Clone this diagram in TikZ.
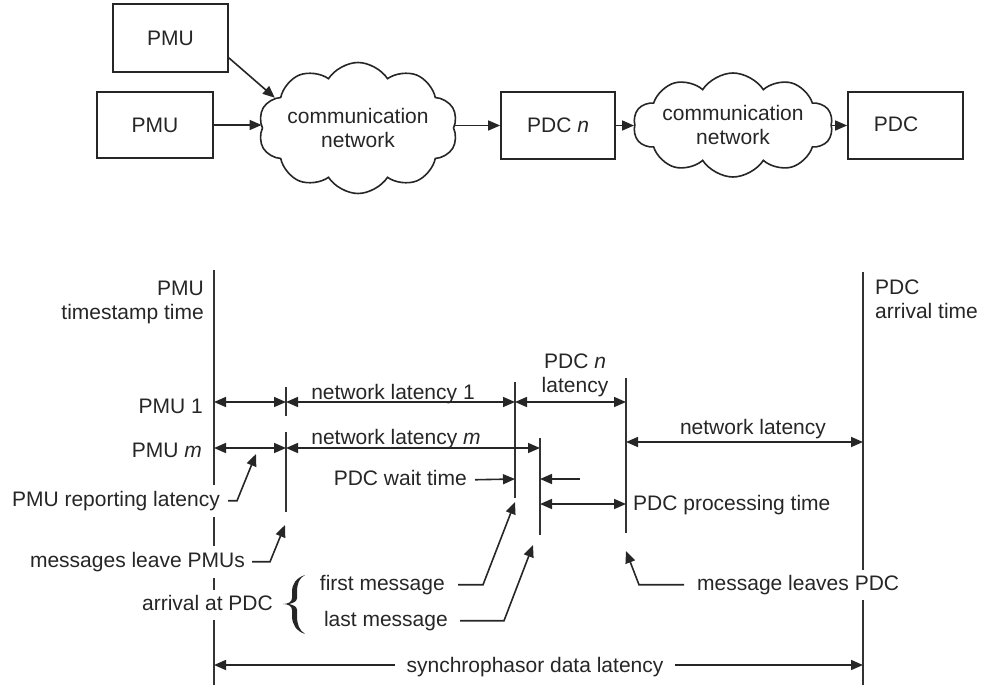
\documentclass[tikz,border=0pt]{standalone}
\usepackage{fontspec}
\setmainfont{Liberation Sans}
\usetikzlibrary{arrows.meta,shapes.symbols,calc}

\begin{document}
\begin{tikzpicture}[x=1pt,y=-1pt,
  every node/.style={font=\fontsize{21}{23.5}\selectfont, text=black!85},
  lbl/.style={inner sep=0pt, text height=15pt, text depth=4.5pt},
  cover/.style={lbl, fill=white, inner ysep=6pt},
  box/.style={draw=black!85, line width=1.7pt, inner sep=0pt},
  netcloud/.style={cloud, draw=black!85, line width=1.6pt, cloud puffs=10,
    cloud puff arc=115, cloud ignores aspect, inner sep=0pt, align=center},
  arr/.style={-{Triangle[length=12pt,width=10pt]}, line width=1.6pt, draw=black!85},
  darr/.style={{Triangle[length=12pt,width=10pt]}-{Triangle[length=12pt,width=10pt]}, line width=1.6pt, draw=black!85},
  tline/.style={line width=1.6pt, draw=black!80}
]
\useasboundingbox (0,0) rectangle (982,685);

% ---------- block diagram ----------
\node[box, minimum width=115pt, minimum height=68pt] (pmu1) at (170.5,38) {PMU};
\node[box, minimum width=116pt, minimum height=66pt] (pmu2) at (155,125) {PMU};
\node[netcloud, minimum width=197pt, minimum height=131pt] (net1) at (358,128) {communication\\network};
\node[box, minimum width=114pt, minimum height=67pt] (pdcn) at (558,125.5) {PDC \textit{n}};
\node[netcloud, minimum width=160pt, minimum height=104pt] (net2) at (733,125) {communication\\network};
\node[box, minimum width=115pt, minimum height=67pt] (pdc) at (905.5,125.5) {};
\node[inner sep=0pt] (pdctext) at (896,124) {PDC};

\draw[arr] ([yshift=15pt]pmu1.south east) -- (net1.160);
\draw[arr] (pmu2.east) -- (net1.west |- pmu2.east);
\draw[arr] (net1.east |- pdcn.west) -- (pdcn.west);
\draw[arr] (pdcn.east) -- (net2.west |- pdcn.east);
\draw[arr] (net2.east |- pdc.west) -- (pdc.west);

% ---------- latency timeline ----------
% time marks
\coordinate (aT) at (214,270); \coordinate (aB) at (214,685);
\coordinate (fT) at (863,272); \coordinate (fB) at (863,685);
\coordinate (b1T) at (286,387); \coordinate (b1B) at (286,416);
\coordinate (b2T) at (286,432); \coordinate (b2B) at (286,512);
\coordinate (cT) at (515,382); \coordinate (cB) at (515,498);
\coordinate (dT) at (540,438); \coordinate (dB) at (540,535);
\coordinate (eT) at (626,378); \coordinate (eB) at (626,533);
% rows
\coordinate (r1) at (0,402);
\coordinate (r2) at (0,448);
\coordinate (r2b) at (0,442);
\coordinate (r3) at (0,479);
\coordinate (r4) at (0,504);
\coordinate (r5) at (0,665);

\draw[tline] (aT) -- (aB);
\draw[tline] (fT) -- (fB);
\draw[tline] (b1T) -- (b1B);
\draw[tline] (b2T) -- (b2B);
\draw[tline] (cT) -- (cB);
\draw[tline] (dT) -- (dB);
\draw[tline] (eT) -- (eB);

% headings
\node[inner sep=0pt, align=right, anchor=north east] (hpmu) at (204,281) {PMU\\timestamp time};
\node[inner sep=0pt, align=left, anchor=north west] (hpdc) at (875,280) {PDC\\arrival time};
\node[inner sep=0pt, align=center, anchor=north] (hpdcn) at (575,354) {PDC \textit{n}\\latency};

% row labels
\node[lbl, anchor=east] (lpmu1) at (203,407.75) {PMU 1};
\node[lbl, anchor=east] (lpmum) at (202,451.75) {PMU \textit{m}};
\node[lbl] (lnet1) at (393,393.75) {network latency 1};
\node[lbl] (lnetm) at (396,438.75) {network latency \textit{m}};
\node[lbl] (lnet) at (753,428.75) {network latency};
\node[lbl, anchor=east] (lwait) at (467,479.75) {PDC wait time};
\node[lbl, anchor=west] (lproc) at (633,504.75) {PDC processing time};

% labels lying over the time marks
\node[cover, anchor=east] (lrep) at (220,500.75) {PMU reporting latency};
\node[cover, anchor=east] (lleave) at (245,561.75) {messages leave PMUs};
\node[cover, anchor=east, inner ysep=5pt] (larr) at (273,604.75) {arrival at PDC};
\node[cover, anchor=west, inner ysep=5pt] (lpdcl) at (697,584.75) {message leaves PDC};
\node[lbl, anchor=east] (lfirst) at (445,584.75) {first message};
\node[lbl, anchor=east] (llast) at (448,620.75) {last message};

% curly brace grouping the two arrival messages
\fill[black!85] (305,575) .. controls (296,578) and (292,584) .. (292,592)
  -- (292,598) .. controls (292,602) and (288,604) .. (283,604)
  .. controls (288,604) and (292,606) .. (292,610)
  -- (292,616) .. controls (292,624) and (296,631) .. (305,634)
  .. controls (299,630) and (297,624) .. (297,616)
  -- (297,610) .. controls (297,607) and (294,605) .. (289,604)
  .. controls (294,603) and (297,601) .. (297,598)
  -- (297,592) .. controls (297,584) and (299,578) .. (305,575) -- cycle;

% interval arrows
\draw[darr] (aT |- r1) -- (b1T |- r1);
\draw[darr] (b1T |- r1) -- (cT |- r1);
\draw[darr] (cT |- r1) -- (eT |- r1);
\draw[darr] (aT |- r2) -- (b2T |- r2);
\draw[darr] (b2T |- r2) -- (dT |- r2);
\draw[darr] (eT |- r2b) -- (fT |- r2b);
\draw[arr] ([xshift=8pt]lwait.east) -- (cT |- r3);
\coordinate (waitR) at (580,479);
\draw[arr] (waitR) -- (dT |- r3);
\draw[darr] (dT |- r4) -- (eT |- r4);

% callouts
\coordinate (repTip) at (256,454);
\coordinate (leaveTip) at (285,525);
\coordinate (firstTip) at (515,502);
\coordinate (lastTip) at (533,545);
\coordinate (pdclTip) at (626,551);
\draw[arr] ([xshift=8pt]lrep.east) -- ++(9,0) -- (repTip);
\draw[arr] ([xshift=7pt]lleave.east) -- ++(18,0) -- (leaveTip);
\draw[arr] ([xshift=13pt]lfirst.east) -- ++(25,0) -- (firstTip);
\draw[arr] ([xshift=12pt]llast.east) -- ++(44,0) -- (lastTip);
\draw[arr] ([xshift=-13pt]lpdcl.west) -- ++(-45,0) -- (pdclTip);

% total latency
\draw[darr] (aT |- r5) -- (fT |- r5);
\node[lbl, fill=white, inner xsep=12pt, inner ysep=4pt] (ltot) at (535,666.75) {synchrophasor data latency};

\end{tikzpicture}
\end{document}
